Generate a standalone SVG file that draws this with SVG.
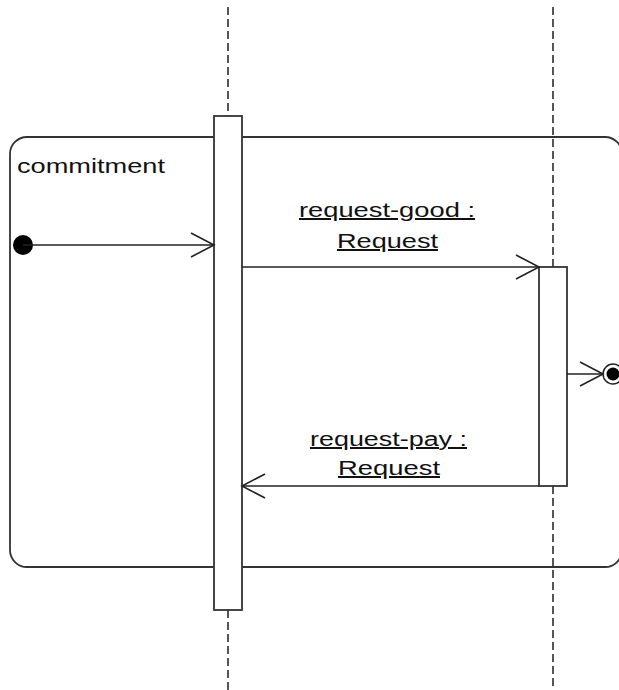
<svg xmlns="http://www.w3.org/2000/svg" width="619" height="690" viewBox="0 0 619 690">
<style>
.frame{fill:none;stroke:#333;stroke-width:1.8}
.life{stroke:#444;stroke-width:1.8;stroke-dasharray:8 4;fill:none}
.act{fill:#fff;stroke:#333;stroke-width:1.8}
.msg{stroke:#222;stroke-width:1.6;fill:none}
.lbl{font-family:"Liberation Sans",Arial,sans-serif;font-size:20px;fill:#111}
.ul{text-decoration:underline}
</style>
<defs>
<marker id="open" markerWidth="26" markerHeight="26" viewBox="0 0 26 26" refX="24" refY="13" orient="auto" markerUnits="userSpaceOnUse">
<path d="M1,1 L24,13 L1,25" fill="none" stroke="#222" stroke-width="1.6"/>
</marker>
</defs>
<rect width="619" height="690" fill="#fff"/>
<g id="frame">
<rect class="frame" x="10" y="137" width="612" height="430" rx="17" ry="17"/>
<text class="lbl" x="17" y="173" textLength="148" lengthAdjust="spacingAndGlyphs">commitment</text>
</g>
<g id="lifeline-a">
<line class="life" x1="228" y1="7" x2="228" y2="116"/>
<line class="life" x1="228" y1="610" x2="228" y2="690"/>
<rect class="act" x="214" y="116" width="28" height="494"/>
</g>
<g id="lifeline-b">
<line class="life" x1="553" y1="7" x2="553" y2="267"/>
<line class="life" x1="553" y1="486" x2="553" y2="690"/>
<rect class="act" x="539" y="267" width="28" height="219"/>
</g>
<g id="initial">
<circle cx="23" cy="245" r="10" fill="#000"/>
</g>
<g id="final">
<circle cx="613" cy="374" r="10" fill="#fff" stroke="#222" stroke-width="1.5"/>
<circle cx="613" cy="374" r="6.5" fill="#000"/>
</g>
<g id="connectors">
<line class="msg" x1="23" y1="245" x2="214" y2="245" marker-end="url(#open)"/>
<line class="msg" x1="242" y1="267" x2="539" y2="267" marker-end="url(#open)"/>
<line class="msg" x1="539" y1="486" x2="242" y2="486" marker-end="url(#open)"/>
<line class="msg" x1="567" y1="374" x2="603" y2="374" marker-end="url(#open)"/>
</g>
<g id="labels">
<text class="lbl ul" x="299" y="217" textLength="176" lengthAdjust="spacingAndGlyphs">request-good :</text>
<text class="lbl ul" x="337" y="248" textLength="101" lengthAdjust="spacingAndGlyphs">Request</text>
<text class="lbl ul" x="310" y="446" textLength="157" lengthAdjust="spacingAndGlyphs">request-pay :</text>
<text class="lbl ul" x="338" y="475" textLength="102" lengthAdjust="spacingAndGlyphs">Request</text>
</g>
</svg>
